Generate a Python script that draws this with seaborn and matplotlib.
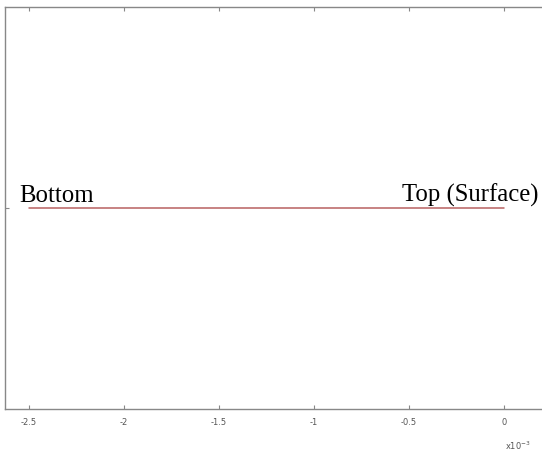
import matplotlib
matplotlib.use("Agg")
import matplotlib.pyplot as plt
import numpy as np
import pandas as pd
import seaborn as sns

sns.set_theme(style="white")
plt.rcParams["font.family"] = ["DejaVu Sans"]

# depth coordinate (x10^-3) and profile level
depth = [-2.5, 0.0]
level = [0.0, 0.0]
x_ticks = [-2.5, -2.0, -1.5, -1.0, -0.5, 0.0]
x_tick_labels = ["-2.5", "-2", "-1.5", "-1", "-0.5", "0"]
end_labels = ["Bottom", "Top (Surface)"]

df = pd.DataFrame({"depth": depth, "level": level})

fig = plt.figure(figsize=(5.42, 4.52), dpi=100)
ax = fig.add_axes([5 / 542, 42 / 452, 546.4 / 542, 402 / 452])

sns.lineplot(data=df, x="depth", y="level", color="#b86060", linewidth=1.1, ax=ax)

ax.set_xlim(-2.626, 0.25)
ax.set_ylim(-1, 1)
ax.set_xticks(x_ticks)
ax.set_xticklabels(x_tick_labels)
ax.set_yticks([0])
ax.set_yticklabels([])
ax.set_xlabel("")
ax.set_ylabel("")

ax.tick_params(axis="x", direction="in", length=3, width=0.8, color="#888888",
               labelsize=6, labelcolor="#555555", pad=6, top=True, bottom=True)
ax.tick_params(axis="y", direction="in", length=3, width=0.8, color="#888888",
               left=True, right=False)
for side in ["left", "bottom", "top", "right"]:
    ax.spines[side].set_color("#888888")
    ax.spines[side].set_linewidth(1.0)

serif = ["Liberation Serif", "DejaVu Serif"]
ax.text(-2.5525, 0.035, end_labels[0], family=serif, fontsize=17.8, color="#000000",
        ha="left", va="baseline")
ax.text(0.1815, 0.035, end_labels[1], family=serif, fontsize=17.8, color="#000000",
        ha="right", va="baseline")

fig.text(505 / 542, 1 - 446 / 452, r"x10$^{-3}$", fontsize=6, color="#555555",
         ha="left", va="center")

fig.savefig("out.png", dpi=100)
